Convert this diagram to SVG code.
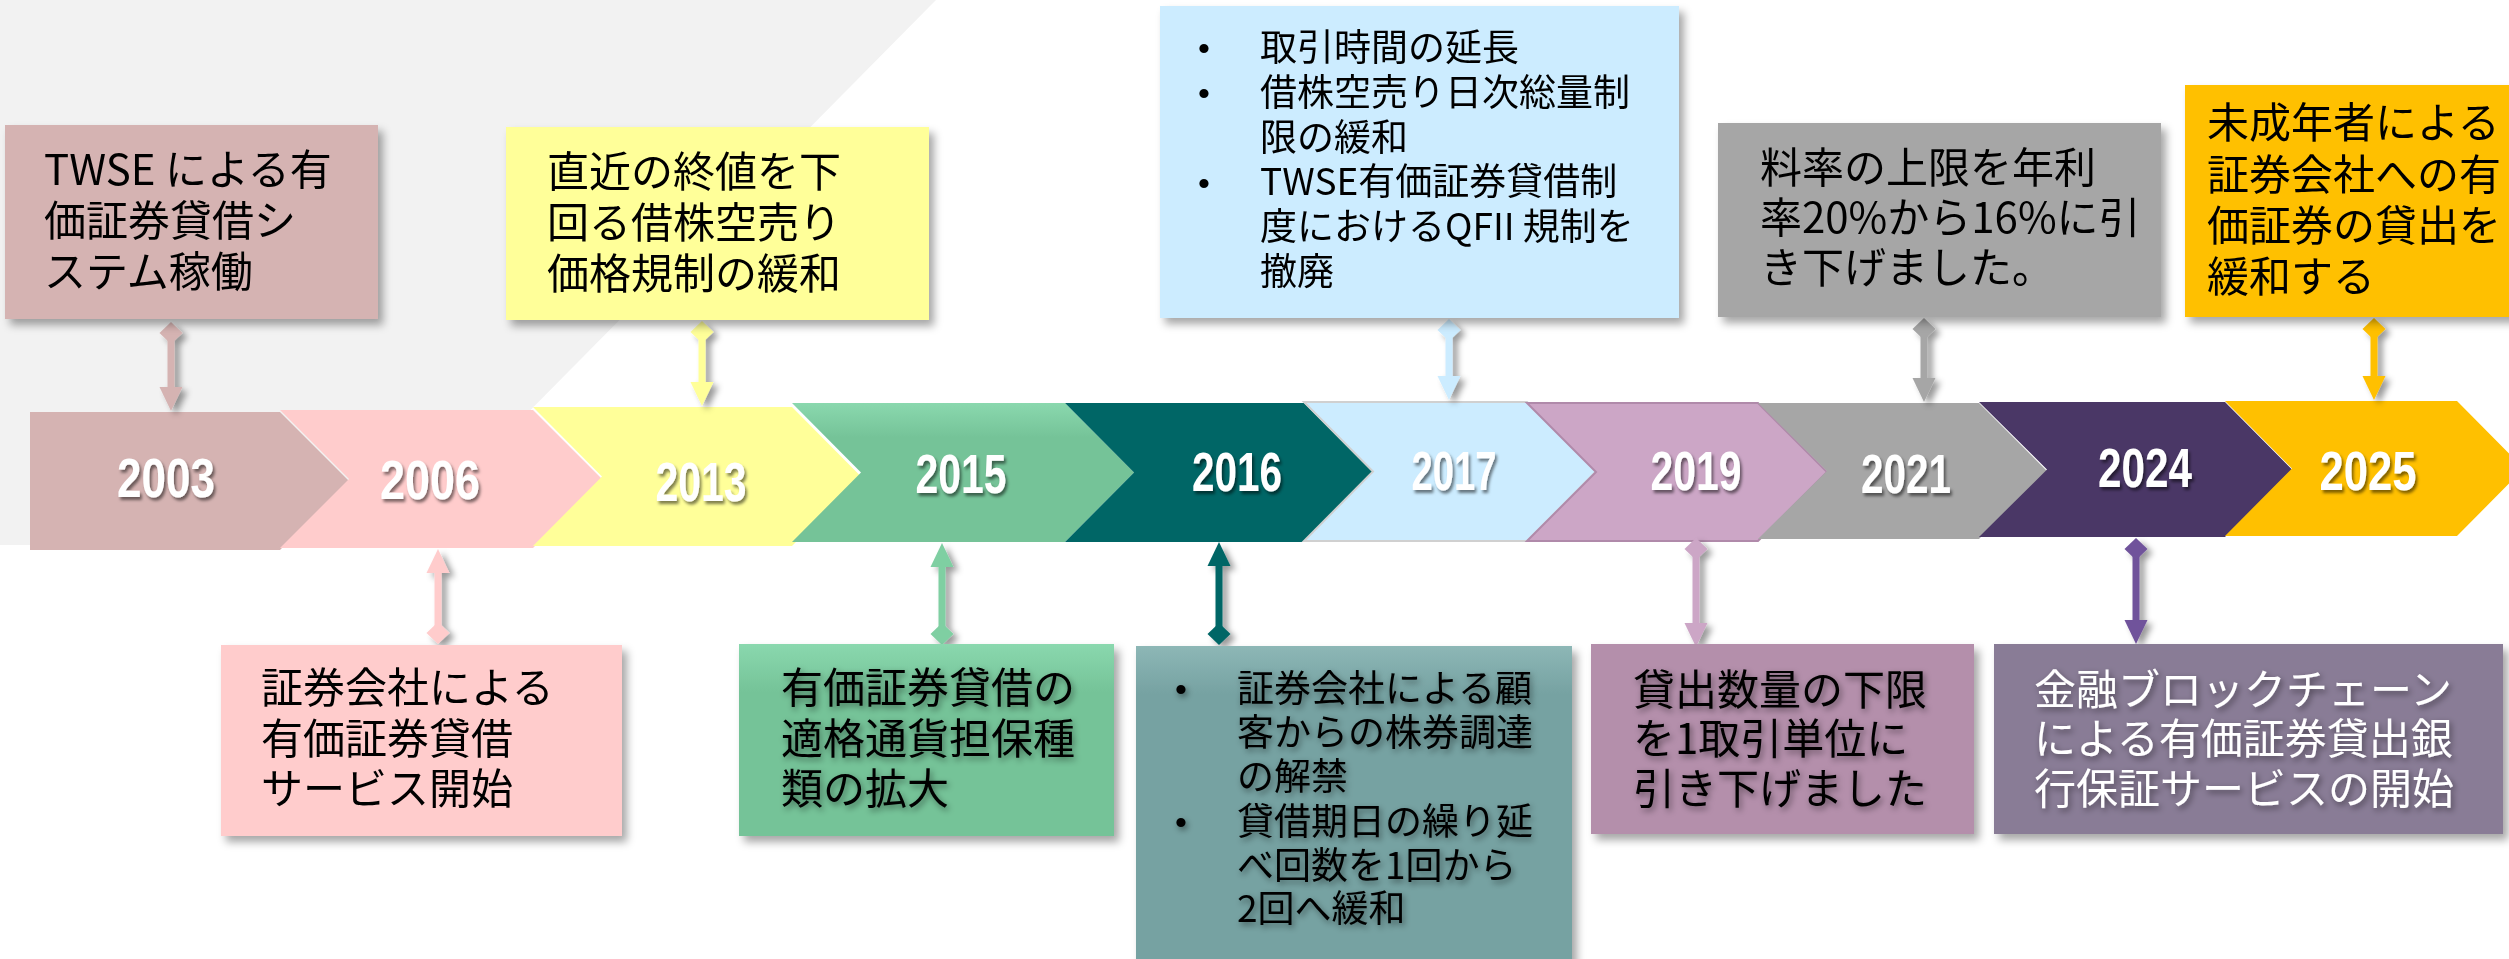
<svg xmlns="http://www.w3.org/2000/svg" xmlns:xlink="http://www.w3.org/1999/xlink" width="2509" height="959" viewBox="0 0 2509 959">
<style>
.t{font-family:"Noto Sans CJK JP","Noto Sans CJK SC",sans-serif;font-size:42px;fill:#000}
.s{font-size:37px}
.w{fill:#fff}
.b{font-family:"Liberation Sans",Arial,sans-serif;font-size:34px;fill:#000}
.yr{font-family:"Liberation Sans",Arial,sans-serif;font-weight:bold;font-size:55px;fill:#fff;text-anchor:middle}
</style>
<defs>
<filter id="sh" x="-10%" y="-10%" width="130%" height="130%"><feDropShadow dx="5" dy="6" stdDeviation="4" flood-color="#000" flood-opacity="0.35"/></filter>
<filter id="csh" x="-100%" y="-20%" width="300%" height="140%"><feDropShadow dx="5" dy="4" stdDeviation="3" flood-color="#000" flood-opacity="0.4"/></filter>
<filter id="ysh" x="-10%" y="-20%" width="130%" height="150%"><feDropShadow dx="2" dy="3" stdDeviation="1.5" flood-color="#000" flood-opacity="0.5"/></filter>
<filter id="tsh" x="-10%" y="-20%" width="130%" height="150%"><feDropShadow dx="2" dy="3" stdDeviation="3" flood-color="#000" flood-opacity="0.45"/></filter>
<path id="dia" d="M0,-11 L11.5,0 L0,11 L-11.5,0Z"/>
<path id="arD" d="M-11.5,-24 L11.5,-24 L0,0Z"/>
<path id="arU" d="M-11.5,24 L11.5,24 L0,0Z"/>
<linearGradient id="g15" x1="0" y1="0" x2="0" y2="1"><stop offset="0" stop-color="#8AD8AE"/><stop offset="0.25" stop-color="#75C398"/></linearGradient>
<linearGradient id="g16" x1="0" y1="0" x2="0" y2="1"><stop offset="0" stop-color="#8DB7B6"/><stop offset="0.15" stop-color="#76A2A2"/></linearGradient>
</defs>
<polygon points="0,0 936,0 397,545 0,545" fill="#F2F2F2"/>

<g id="timeline">
<polygon points="30,412 280,412 349,481 280,550 30,550" fill="#D5B3B2"/>
<polygon points="280,410 533,410 602,479 533,548 280,548 349,479" fill="#FFCCCC"/>
<polygon points="533,407 792,407 861,476.5 792,546 533,546 602,476.5" fill="#FFFF99"/>
<polygon points="792,403 1065,403 1134,472.5 1065,542 792,542 861,472.5" fill="url(#g15)"/>
<polygon points="1065,403 1304,403 1373,472.5 1304,542 1065,542 1134,472.5" fill="#006666"/>
<polygon points="1304,402 1527,402 1596,471.5 1527,541 1304,541 1373,471.5" fill="#CCECFF" stroke="#D0D0D0" stroke-width="2"/>
<polygon points="1527,403 1758,403 1827,472 1758,541 1527,541 1596,472" fill="#CCA6C6" stroke="#B08AAA" stroke-width="2"/>
<polygon points="1758,403 1979,403 2047,471 1979,539 1758,539 1827,471" fill="#A6A6A6"/>
<polygon points="1979,402 2225,402 2292,469.5 2225,537 1979,537 2047,469.5" fill="#4A3766"/>
<polygon points="2225,401 2457,401 2524,468.5 2457,536 2225,536 2292,468.5" fill="#FFC000"/>
<g filter="url(#ysh)">
<text class="yr" x="166" y="497" textLength="98" lengthAdjust="spacingAndGlyphs">2003</text>
<text class="yr" x="430" y="499" textLength="100" lengthAdjust="spacingAndGlyphs">2006</text>
<text class="yr" x="701" y="501" textLength="91" lengthAdjust="spacingAndGlyphs">2013</text>
<text class="yr" x="961" y="493" textLength="91" lengthAdjust="spacingAndGlyphs">2015</text>
<text class="yr" x="1237" y="491" textLength="90" lengthAdjust="spacingAndGlyphs">2016</text>
<text class="yr" x="1454" y="490" textLength="85" lengthAdjust="spacingAndGlyphs">2017</text>
<text class="yr" x="1696" y="490" textLength="91" lengthAdjust="spacingAndGlyphs">2019</text>
<text class="yr" x="1906" y="493" textLength="90" lengthAdjust="spacingAndGlyphs">2021</text>
<text class="yr" x="2145" y="487" textLength="94" lengthAdjust="spacingAndGlyphs">2024</text>
<text class="yr" x="2368" y="490" textLength="97" lengthAdjust="spacingAndGlyphs">2025</text>
</g>
</g>

<g id="connectors" filter="url(#csh)">
<g fill="#D5B3B2"><rect x="167.5" y="330" width="7" height="62"/><use href="#dia" x="171" y="333"/><use href="#arD" x="171" y="411"/></g>
<g fill="#FFFF99"><rect x="698.5" y="330" width="7" height="56"/><use href="#dia" x="702" y="332"/><use href="#arD" x="702" y="406"/></g>
<g fill="#CCECFF"><rect x="1445.5" y="328" width="7" height="54"/><use href="#dia" x="1449" y="330"/><use href="#arD" x="1449" y="400"/></g>
<g fill="#A6A6A6"><rect x="1920.5" y="327" width="7" height="58"/><use href="#dia" x="1924" y="329"/><use href="#arD" x="1924" y="402"/></g>
<g fill="#FFC000"><rect x="2370.5" y="327" width="7" height="56"/><use href="#dia" x="2374" y="329"/><use href="#arD" x="2374" y="400"/></g>
<g fill="#FFCCCC"><rect x="434.5" y="565" width="7" height="66"/><use href="#arU" x="438" y="549"/><use href="#dia" x="438" y="633"/></g>
<g fill="#7FCFA2"><rect x="938.5" y="560" width="7" height="72"/><use href="#arU" x="942" y="543"/><use href="#dia" x="942" y="634"/></g>
<g fill="#006666"><rect x="1215.5" y="560" width="7" height="72"/><use href="#arU" x="1219" y="542"/><use href="#dia" x="1219" y="634"/></g>
<g fill="#CCA6C6"><rect x="1692.5" y="550" width="7" height="80"/><use href="#dia" x="1696" y="549"/><use href="#arD" x="1696" y="647"/></g>
<g fill="#6F529B"><rect x="2132.5" y="550" width="7" height="77"/><use href="#dia" x="2136" y="549"/><use href="#arD" x="2136" y="644"/></g>
</g>

<g id="n2003">
<rect x="5" y="125" width="373" height="194" fill="#D5B3B2" filter="url(#sh)"/>
<text class="t"><tspan x="44" y="185">TWSE による有</tspan><tspan x="44" y="236">価証券貸借シ</tspan><tspan x="44" y="287">ステム稼働</tspan></text>
</g>
<g id="n2013">
<rect x="506" y="127" width="423" height="193" fill="#FFFF99" filter="url(#sh)"/>
<text class="t"><tspan x="547" y="187">直近の終値を下</tspan><tspan x="547" y="238">回る借株空売り</tspan><tspan x="547" y="289">価格規制の緩和</tspan></text>
</g>
<g id="n2017">
<rect x="1160" y="6" width="519" height="312" fill="#CCECFF" filter="url(#sh)"/>
<text class="b"><tspan x="1198" y="60">•</tspan><tspan x="1198" y="105">•</tspan><tspan x="1198" y="195">•</tspan></text>
<text class="t s"><tspan x="1260" y="61">取引時間の延長</tspan><tspan x="1260" y="106">借株空売り日次総量制</tspan><tspan x="1260" y="151">限の緩和</tspan><tspan x="1260" y="195">TWSE有価証券貸借制</tspan><tspan x="1260" y="240">度におけるQFII 規制を</tspan><tspan x="1260" y="285">撤廃</tspan></text>
</g>
<g id="n2021">
<rect x="1718" y="123" width="443" height="194" fill="#A6A6A6" filter="url(#sh)"/>
<text class="t"><tspan x="1760" y="183">料率の上限を年利</tspan><tspan x="1760" y="233">率20%から16%に引</tspan><tspan x="1760" y="283">き下げました。</tspan></text>
</g>
<g id="n2025">
<rect x="2185" y="85" width="330" height="232" fill="#FFC000" filter="url(#sh)"/>
<text class="t"><tspan x="2207" y="138">未成年者による</tspan><tspan x="2207" y="190">証券会社への有</tspan><tspan x="2207" y="241">価証券の貸出を</tspan><tspan x="2207" y="292">緩和する</tspan></text>
</g>

<g id="n2006">
<rect x="221" y="645" width="401" height="191" fill="#FFCCCC" filter="url(#sh)"/>
<text class="t"><tspan x="261" y="703">証券会社による</tspan><tspan x="261" y="754">有価証券貸借</tspan><tspan x="261" y="804">サービス開始</tspan></text>
</g>
<g id="n2015">
<rect x="739" y="644" width="375" height="192" fill="url(#g15)" filter="url(#sh)"/>
<text class="t" filter="url(#tsh)"><tspan x="781" y="703">有価証券貸借の</tspan><tspan x="781" y="754">適格通貨担保種</tspan><tspan x="781" y="804">類の拡大</tspan></text>
</g>
<g id="n2016">
<rect x="1136" y="646" width="436" height="320" fill="url(#g16)" filter="url(#sh)"/>
<g filter="url(#tsh)">
<text class="b"><tspan x="1175" y="701">•</tspan><tspan x="1175" y="834">•</tspan></text>
<text class="t s"><tspan x="1237" y="702">証券会社による顧</tspan><tspan x="1237" y="746">客からの株券調達</tspan><tspan x="1237" y="790">の解禁</tspan><tspan x="1237" y="835">貸借期日の繰り延</tspan><tspan x="1237" y="879">べ回数を1回から</tspan><tspan x="1237" y="922">2回へ緩和</tspan></text>
</g>
</g>
<g id="n2019">
<rect x="1591" y="644" width="383" height="190" fill="#B48FAB" filter="url(#sh)"/>
<text class="t" filter="url(#tsh)"><tspan x="1633" y="705">貸出数量の下限</tspan><tspan x="1633" y="754">を1取引単位に</tspan><tspan x="1633" y="804">引き下げました</tspan></text>
</g>
<g id="n2024">
<rect x="1994" y="644" width="509" height="190" fill="#897C96" filter="url(#sh)"/>
<text class="t w" filter="url(#tsh)"><tspan x="2034" y="705">金融ブロックチェーン</tspan><tspan x="2034" y="754">による有価証券貸出銀</tspan><tspan x="2034" y="804">行保証サービスの開始</tspan></text>
</g>
</svg>
